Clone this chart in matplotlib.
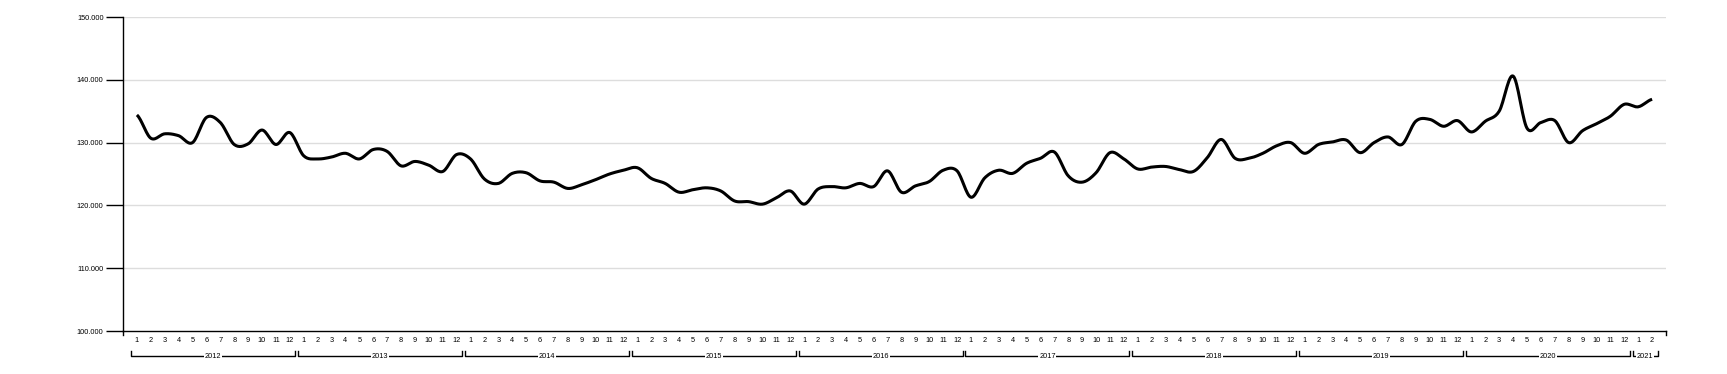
import numpy as np
import matplotlib
matplotlib.use("Agg")
import matplotlib.pyplot as plt
from matplotlib.transforms import blended_transform_factory

plt.rcParams['font.family'] = ['Liberation Sans', 'DejaVu Sans']

# monthly values, 2012-01 .. 2021-02
values = [
    134.4, 130.7, 131.4, 131.1, 130.0, 134.0, 133.2, 129.7, 129.8, 132.0, 129.7, 131.6,  # 2012
    127.9, 127.4, 127.7, 128.3, 127.4, 128.9, 128.6, 126.3, 127.0, 126.4, 125.4, 128.1,  # 2013
    127.4, 124.2, 123.5, 125.1, 125.2, 123.9, 123.7, 122.7, 123.3, 124.1, 125.0, 125.6,  # 2014
    126.0, 124.3, 123.5, 122.1, 122.5, 122.8, 122.3, 120.7, 120.6, 120.2, 121.2, 122.3,  # 2015
    120.2, 122.6, 123.0, 122.8, 123.5, 123.0, 125.5, 122.1, 123.1, 123.8, 125.6, 125.5,  # 2016
    121.3, 124.4, 125.6, 125.1, 126.7, 127.5, 128.5, 124.7, 123.7, 125.2, 128.4, 127.4,  # 2017
    125.8, 126.1, 126.2, 125.7, 125.4, 127.6, 130.5, 127.5, 127.5, 128.3, 129.5, 130.0,  # 2018
    128.3, 129.7, 130.1, 130.4, 128.4, 130.0, 130.9, 129.7, 133.4, 133.7, 132.6, 133.5,  # 2019
    131.7, 133.4, 135.0, 140.6, 132.3, 133.2, 133.5, 130.0, 131.9, 133.0, 134.2, 136.1,  # 2020
    135.7, 136.9,                                                                          # 2021
]
years = [2012, 2013, 2014, 2015, 2016, 2017, 2018, 2019, 2020, 2021]
months_per_year = [12, 12, 12, 12, 12, 12, 12, 12, 12, 2]
y_ticks = [100, 110, 120, 130, 140, 150]

month_labels = []
for n in months_per_year:
    month_labels += [str(m) for m in range(1, n + 1)]
x = np.arange(1, len(values) + 1)


def catmull_rom(xs, ys, steps=16):
    xs = np.asarray(xs, float)
    ys = np.asarray(ys, float)
    px = np.concatenate([[2 * xs[0] - xs[1]], xs, [2 * xs[-1] - xs[-2]]])
    py = np.concatenate([[ys[0]], ys, [ys[-1]]])
    out_x, out_y = [], []
    t = np.linspace(0, 1, steps, endpoint=False)
    for i in range(1, len(px) - 2):
        for p, out in ((px, out_x), (py, out_y)):
            p0, p1, p2, p3 = p[i - 1], p[i], p[i + 1], p[i + 2]
            out.extend(0.5 * (2 * p1 + (-p0 + p2) * t
                              + (2 * p0 - 5 * p1 + 4 * p2 - p3) * t ** 2
                              + (-p0 + 3 * p1 - 3 * p2 + p3) * t ** 3))
    out_x.append(xs[-1])
    out_y.append(ys[-1])
    return out_x, out_y


fig = plt.figure(figsize=(17.27, 3.74), dpi=100)
ax = fig.add_axes([123 / 1727, 1 - 331 / 374, (1666 - 123) / 1727, (331 - 17) / 374])

sx, sy = catmull_rom(x, values)
ax.plot(sx, sy, color='black', lw=2.2, solid_capstyle='butt', zorder=3)

ax.set_xlim(0, len(values) + 1)
ax.set_ylim(100, 150)
ax.set_yticks(y_ticks)
ax.set_yticklabels(["{:.3f}".format(v) for v in y_ticks])
for v in y_ticks[1:]:
    ax.axhline(v, color='#dddddd', lw=1, zorder=1)

ax.set_xticks(x)
ax.set_xticklabels(month_labels)
ax.tick_params(axis='x', length=0, pad=4, labelsize=5.3)
ax.tick_params(axis='y', length=12.5, width=1, pad=1.5, labelsize=5.3)

for s in ['top', 'right']:
    ax.spines[s].set_visible(False)
for s in ['left', 'bottom']:
    ax.spines[s].set_linewidth(1)
    ax.spines[s].set_color('black')

# outer ticks of the x axis
trans_px = blended_transform_factory(ax.transData, fig.transFigure)
for xe in [0, len(values) + 1]:
    ax.plot([xe, xe], [1 - 331 / 374, 1 - 335 / 374], color='black', lw=1,
            transform=trans_px, clip_on=False)

# year brackets
yb = 1 - 356 / 374
yt = 1 - 351 / 374
start = 1
for yr, n in zip(years, months_per_year):
    x0 = start - 0.4
    x1 = start + n - 1 + 0.4
    ax.plot([x0, x0, x1, x1], [yt, yb, yb, yt], color='black', lw=1,
            transform=trans_px, clip_on=False)
    ax.text((x0 + x1) / 2, yb, str(yr), transform=trans_px, ha='center', va='center',
            fontsize=5.3, bbox=dict(facecolor='white', edgecolor='none', pad=0.6))
    start += n

fig.savefig("out.png", dpi=100)
